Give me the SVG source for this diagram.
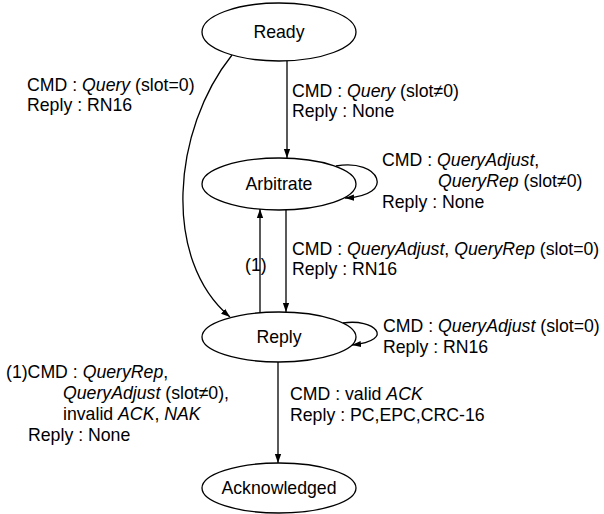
<svg xmlns="http://www.w3.org/2000/svg" width="604" height="514" viewBox="0 0 604 514">
<style>
.node ellipse{fill:#fff;stroke:#000;stroke-width:1.3}
.nt{font-family:"Liberation Sans",Arial,sans-serif;font-size:17.7px;text-anchor:middle;fill:#000}
.lb{font-family:"Liberation Sans",Arial,sans-serif;font-size:17.7px;fill:#000}
.i{font-style:italic}
.edge{fill:none;stroke:#000;stroke-width:1.3;marker-end:url(#ah)}
</style>
<defs>
<marker id="ah" viewBox="0 0 10 10" refX="10" refY="5" markerWidth="9" markerHeight="9" markerUnits="userSpaceOnUse" orient="auto"><path d="M0,1.5 L10,5 L0,8.5 z" fill="#000"/></marker>
</defs>
<rect width="604" height="514" fill="#fff"/>
<g id="connectors">
<path class="edge" d="M287 61 L287 158"/>
<path class="edge" d="M286 210 L286 312"/>
<path class="edge" d="M260 313 L260 209"/>
<path class="edge" d="M232 55 C172 130,162 260,230 317"/>
<path class="edge" d="M336 166 C380 158,397 196,345 198"/>
<path class="edge" d="M278 362 L278 463"/>
<path class="edge" d="M343 323 C374 318,397 340,352 345"/>
</g>
<g id="ready" class="node"><ellipse cx="279" cy="32" rx="77" ry="29"/><text class="nt" x="279" y="38">Ready</text></g>
<g id="arbitrate" class="node"><ellipse cx="279" cy="184" rx="77" ry="26"/><text class="nt" x="279" y="190">Arbitrate</text></g>
<g id="reply" class="node"><ellipse cx="279" cy="337" rx="77" ry="25"/><text class="nt" x="279" y="343">Reply</text></g>
<g id="acknowledged" class="node"><ellipse cx="279" cy="488" rx="77" ry="25"/><text class="nt" x="279" y="494">Acknowledged</text></g>
<g id="labels">
<text class="lb" x="27" y="91">CMD : <tspan class="i">Query</tspan> (slot=0)</text>
<text class="lb" x="27" y="111">Reply : RN16</text>
<text class="lb" x="292" y="97">CMD : <tspan class="i">Query</tspan> (slot≠0)</text>
<text class="lb" x="292" y="117">Reply : None</text>
<text class="lb" x="382" y="166">CMD : <tspan class="i">QueryAdjust</tspan>,</text>
<text class="lb" x="438" y="187"><tspan class="i">QueryRep</tspan> (slot≠0)</text>
<text class="lb" x="382" y="208">Reply : None</text>
<text class="lb" x="245" y="271">(1)</text>
<text class="lb" x="292" y="255">CMD : <tspan class="i">QueryAdjust</tspan>, <tspan class="i">QueryRep</tspan> (slot=0)</text>
<text class="lb" x="292" y="275">Reply : RN16</text>
<text class="lb" x="383" y="332">CMD : <tspan class="i">QueryAdjust</tspan> (slot=0)</text>
<text class="lb" x="383" y="353">Reply : RN16</text>
<text class="lb" x="6" y="378">(1)CMD : <tspan class="i">QueryRep</tspan>,</text>
<text class="lb" x="63" y="399"><tspan class="i">QueryAdjust</tspan> (slot≠0),</text>
<text class="lb" x="63" y="420">invalid <tspan class="i">ACK</tspan>, <tspan class="i">NAK</tspan></text>
<text class="lb" x="28" y="441">Reply : None</text>
<text class="lb" x="290" y="400">CMD : valid <tspan class="i">ACK</tspan></text>
<text class="lb" x="290" y="421">Reply : PC,EPC,CRC-16</text>
</g>
</svg>
